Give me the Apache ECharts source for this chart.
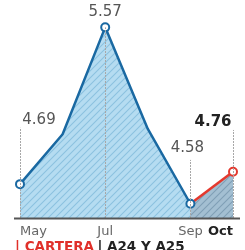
<!DOCTYPE html>
<html><head><meta charset="utf-8">
<script src="https://cdn.jsdelivr.net/npm/echarts@6/dist/echarts.min.js"></script>
<style>html,body{margin:0;padding:0;background:#fff}#c{width:245px;height:250px}</style>
</head><body><div id="c"></div>
<script>
const months = ['May', 'Jun', 'Jul', 'Aug', 'Sep', 'Oct'];
const tickLabels = ['May', '', 'Jul', '', 'Sep', 'Oct'];
const blueValues = [4.69, 4.97, 5.57, 5.00, 4.58, null];
const redValues = [null, null, null, null, 4.58, 4.76];
const valueLabels = ['4.69', null, '5.57', null, '4.58', '4.76'];
const footerRed = '| CARTERA';
const footerBlack = '| A24 Y A25';

// layout (styling only)
const labelOffsets = [[19, -49], null, [0, 0], null, [-3, -40], [-20, -34]];
const leaderTops = [5.006, null, 5.57, null, 4.826, 4.994];
const Y_MIN = 4.5, Y_MAX = 5.6;

function hatch(bg, fg) {
  const s = 7;
  const c = document.createElement('canvas');
  c.width = s; c.height = s;
  const g = c.getContext('2d');
  g.fillStyle = bg; g.fillRect(0, 0, s, s);
  g.strokeStyle = fg; g.lineWidth = 1.1;
  g.beginPath();
  g.moveTo(0, s); g.lineTo(s, 0);
  g.moveTo(-s / 2, s / 2); g.lineTo(s / 2, -s / 2);
  g.moveTo(s / 2, s * 1.5); g.lineTo(s * 1.5, s / 2);
  g.stroke();
  return { image: c, repeat: 'repeat' };
}

const BLUE = '#1a69a2', RED = '#e4392e';

const blueData = blueValues.map((v, i) => {
  if (v == null) return v;
  const item = { value: v };
  if (valueLabels[i]) {
    item.label = { show: true, formatter: valueLabels[i], offset: labelOffsets[i] };
  } else {
    item.symbol = 'none';
  }
  return item;
});
const redData = redValues.map((v, i) => {
  if (v == null) return v;
  const item = { value: v };
  if (i === 4) { item.symbol = 'none'; }
  if (i === 5) {
    item.label = { show: true, formatter: valueLabels[i], offset: labelOffsets[i],
      fontWeight: 'bold', color: '#222' };
  }
  return item;
});

const leaderData = [];
leaderTops.forEach((t, i) => {
  if (t == null) return;
  leaderData.push([{ coord: [months[i], Y_MIN] }, { coord: [months[i], t] }]);
});

const chart = echarts.init(document.getElementById('c'), null, { renderer: 'canvas' });
chart.setOption({
  animation: false,
  grid: { left: 20, right: 12, top: 22, bottom: 32 },
  xAxis: {
    type: 'category', data: months, boundaryGap: false,
    axisLine: { show: false }, axisTick: { show: false }, splitLine: { show: false },
    axisLabel: {
      interval: 0, margin: 7, color: '#666', fontSize: 13, fontFamily: 'DejaVu Sans',
      alignMinLabel: 'left', alignMaxLabel: 'right',
      formatter: (v, i) => i === 5 ? '{b|' + tickLabels[i] + '}' : tickLabels[i],
      rich: { b: { fontWeight: 'bold', color: '#222', fontSize: 13, fontFamily: 'DejaVu Sans' } }
    }
  },
  yAxis: { type: 'value', min: Y_MIN, max: Y_MAX, show: false, splitLine: { show: false } },
  series: [
    { type: 'line', z: 1, data: blueValues, symbol: 'none', silent: true,
      lineStyle: { width: 0 }, areaStyle: { color: hatch('#b5dcf1', '#8cc1df'), opacity: 1 } },
    { type: 'line', z: 1, data: redValues, symbol: 'none', silent: true,
      lineStyle: { width: 0 }, areaStyle: { color: hatch('#a3bfd2', '#7f9fb6'), opacity: 1 } },
    { type: 'line', z: 2, data: months.map(() => null), silent: true,
      markLine: { symbol: 'none', silent: true, label: { show: false },
        lineStyle: { color: '#a8a8a8', width: 1, type: [2, 1] }, data: leaderData } },
    { type: 'line', z: 3, data: redData, symbol: 'circle', symbolSize: 8,
      itemStyle: { color: '#fff', borderColor: RED, borderWidth: 2 },
      lineStyle: { color: RED, width: 2.5 },
      label: { show: false, position: 'top', distance: 3, fontSize: 15, lineHeight: 15,
        fontFamily: 'DejaVu Sans', color: '#555' } },
    { type: 'line', z: 4, data: blueData, symbol: 'circle', symbolSize: 8,
      itemStyle: { color: '#fff', borderColor: BLUE, borderWidth: 2 },
      lineStyle: { color: BLUE, width: 2.5 },
      label: { show: false, position: 'top', distance: 3, fontSize: 15, lineHeight: 15,
        fontFamily: 'DejaVu Sans', color: '#555' } }
  ],
  graphic: [
    { type: 'line', shape: { x1: 14, y1: 218.5, x2: 240, y2: 218.5 },
      style: { stroke: '#555', lineWidth: 2 }, z: 10 },
    { type: 'text', left: 15, top: 240,
      style: { text: '{r|' + footerRed + '} {k|' + footerBlack + '}',
        rich: {
          r: { fill: '#e0302a', fontWeight: 'bold', fontSize: 13.5, fontFamily: 'DejaVu Sans' },
          k: { fill: '#222', fontWeight: 'bold', fontSize: 13.5, fontFamily: 'DejaVu Sans' }
        } } }
  ]
});
</script></body></html>
